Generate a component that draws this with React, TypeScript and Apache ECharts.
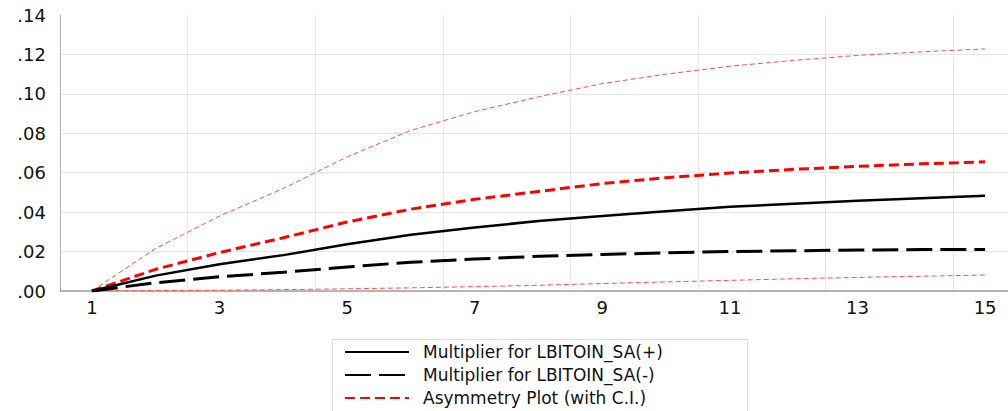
import React, { useEffect, useRef } from "react";
import * as echarts from "echarts";

// Horizon (periods) on the category axis
const horizons = ["1", "2", "3", "4", "5", "6", "7", "8", "9", "10", "11", "12", "13", "14", "15"];

// Cumulative dynamic multipliers
const positiveMultiplier = [0, 0.0078, 0.0136, 0.0182, 0.0237, 0.0285, 0.0322, 0.0355, 0.0381, 0.0405, 0.0427, 0.0443, 0.0458, 0.0471, 0.0483];
const negativeMultiplier = [0, 0.0042, 0.0072, 0.0095, 0.0122, 0.0146, 0.0162, 0.0176, 0.0185, 0.0194, 0.02, 0.0204, 0.0208, 0.021, 0.0211];

// Asymmetry line and its confidence band
const asymmetry = [0, 0.011, 0.0195, 0.027, 0.035, 0.0415, 0.0465, 0.0505, 0.0545, 0.0575, 0.0598, 0.0617, 0.0632, 0.0645, 0.0655];
const asymmetryUpper = [0, 0.0216, 0.038, 0.052, 0.068, 0.0815, 0.091, 0.0985, 0.1052, 0.11, 0.114, 0.117, 0.1195, 0.1213, 0.1228];
const asymmetryLower = [0, 0.0002, 0.0004, 0.0007, 0.0011, 0.0016, 0.0022, 0.0029, 0.0038, 0.0046, 0.0054, 0.0062, 0.0069, 0.0075, 0.0081];

const NAME_POS = "Multiplier for LBITOIN_SA(+)";
const NAME_NEG = "Multiplier for LBITOIN_SA(-)";
const NAME_ASYM = "Asymmetry Plot (with C.I.)";

const FONT = "DejaVu Sans";

export default function App() {
  const ref = useRef<HTMLDivElement>(null);

  useEffect(() => {
    if (!ref.current) return;
    const chart = echarts.init(ref.current, null, { renderer: "svg" });
    const bandLine = { color: "#ff4d4d", width: 1, type: [5, 3] as number[] };
    chart.setOption({
      animation: false,
      backgroundColor: "#ffffff",
      // the plot runs slightly past the right edge of the visible page
      grid: { left: 60, top: 15, width: 957, height: 276, containLabel: false },
      xAxis: {
        type: "category",
        data: horizons,
        boundaryGap: true,
        axisLine: { show: true, lineStyle: { color: "#a0a0a0", width: 1.5 } },
        axisTick: { show: false },
        axisLabel: { interval: 1, color: "#111", fontFamily: FONT, fontSize: 18, margin: 7 },
        splitLine: { show: true, interval: 1, lineStyle: { color: "#e6e6e6", width: 1 } },
      },
      yAxis: {
        type: "value",
        min: 0,
        max: 0.14,
        interval: 0.02,
        axisLine: { show: true, lineStyle: { color: "#b0b0b0", width: 1 } },
        axisTick: { show: false },
        axisLabel: {
          color: "#111",
          fontFamily: FONT,
          fontSize: 18,
          margin: 14,
          formatter: (v: number) => v.toFixed(2).replace(/^0/, ""),
        },
        splitLine: { show: true, showMaxLine: false, lineStyle: { color: "#e6e6e6", width: 1 } },
      },
      legend: {
        data: [NAME_POS, NAME_NEG, NAME_ASYM],
        orient: "vertical",
        left: 344,
        top: 342,
        padding: 0,
        itemWidth: 64,
        itemHeight: 14,
        itemGap: 3,
        itemStyle: { opacity: 0 },
        textStyle: { color: "#111", fontFamily: FONT, fontSize: 17, lineHeight: 20, padding: [0, 0, 0, 9] },
      },
      graphic: [
        {
          type: "rect",
          left: 330,
          top: 337,
          shape: { width: 415, height: 80 },
          style: { fill: "none", stroke: "#dddddd", lineWidth: 1 },
          silent: true,
          z: -1,
        },
      ],
      series: [
        {
          name: "Upper bound",
          type: "line",
          data: asymmetryUpper,
          symbol: "none",
          lineStyle: bandLine,
          z: 1,
        },
        {
          name: "Lower bound",
          type: "line",
          data: asymmetryLower,
          symbol: "none",
          lineStyle: bandLine,
          z: 1,
        },
        {
          name: NAME_ASYM,
          type: "line",
          data: asymmetry,
          symbol: "none",
          itemStyle: { color: "#ff0000" },
          lineStyle: { color: "#ff0000", width: 3, type: [10, 5] },
          z: 2,
        },
        {
          name: NAME_NEG,
          type: "line",
          data: negativeMultiplier,
          symbol: "none",
          itemStyle: { color: "#000000" },
          lineStyle: { color: "#000000", width: 3, type: [26, 8] },
          z: 3,
        },
        {
          name: NAME_POS,
          type: "line",
          data: positiveMultiplier,
          symbol: "none",
          itemStyle: { color: "#000000" },
          lineStyle: { color: "#000000", width: 2.5, type: "solid" },
          z: 4,
        },
      ],
    });
    return () => chart.dispose();
  }, []);

  return <div ref={ref} style={{ position: "fixed", left: 0, top: 0, width: 1024, height: 411 }} />;
}
